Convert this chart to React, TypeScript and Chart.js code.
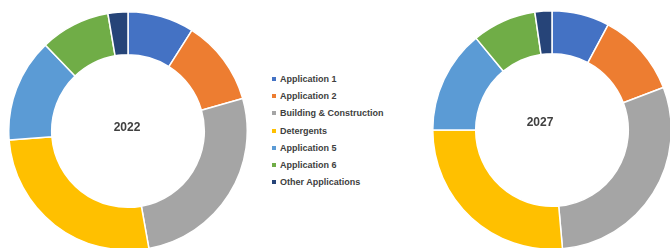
import React, { useEffect, useRef } from "react";
import { Chart, registerables } from "chart.js";

Chart.register(...registerables);

const categories = [
  "Application 1",
  "Application 2",
  "Building & Construction",
  "Detergents",
  "Application 5",
  "Application 6",
  "Other Applications",
];
const values2022 = [9.0, 11.6, 26.6, 26.6, 14.0, 9.5, 2.7];
const values2027 = [7.8, 11.4, 29.4, 26.4, 14.0, 8.7, 2.3];
const colors = ["#4472C4", "#ED7D31", "#A5A5A5", "#FFC000", "#5B9BD5", "#70AD47", "#264478"];
const yearLabels = ["2022", "2027"];

const FONT = "'Liberation Sans', Arial, sans-serif";

function Donut({ values, label, left, top, size, textDx, textDy }: any) {
  const ref = useRef<HTMLCanvasElement | null>(null);
  useEffect(() => {
    if (!ref.current) return;
    const centerText = {
      id: "centerText",
      afterDraw(chart: any) {
        const meta = chart.getDatasetMeta(0);
        const arc = meta.data[0];
        if (!arc) return;
        const ctx = chart.ctx;
        ctx.save();
        ctx.font = `bold 12px ${FONT}`;
        ctx.fillStyle = "#404040";
        ctx.textAlign = "center";
        ctx.textBaseline = "middle";
        ctx.fillText(label, arc.x + textDx, arc.y + textDy);
        ctx.restore();
      },
    };
    const chart = new Chart(ref.current, {
      type: "doughnut",
      data: {
        labels: categories,
        datasets: [
          {
            data: values,
            backgroundColor: colors,
            borderColor: "#ffffff",
            borderWidth: 1.5,
          },
        ],
      },
      options: {
        responsive: false,
        animation: false,
        cutout: "64%",
        layout: { padding: 0 },
        plugins: { legend: { display: false }, tooltip: { enabled: false } },
      },
      plugins: [centerText],
    });
    return () => chart.destroy();
  }, []);
  return (
    <canvas
      ref={ref}
      width={size}
      height={size}
      style={{ position: "absolute", left, top, width: size, height: size }}
    />
  );
}

export default function App() {
  return (
    <div
      style={{
        position: "fixed",
        left: 0,
        top: 0,
        width: 670,
        height: 248,
        overflow: "hidden",
        background: "#ffffff",
      }}
    >
      <Donut values={values2022} label={yearLabels[0]} left={8} top={11} size={240} textDx={-1} textDy={-3} />
      <Donut values={values2027} label={yearLabels[1]} left={432} top={10} size={240} textDx={-12} textDy={-7} />
      <div style={{ position: "absolute", left: 272, top: 70 }}>
        {categories.map((c, i) => (
          <div
            key={c}
            style={{
              display: "flex",
              alignItems: "center",
              height: 17.3,
              fontFamily: FONT,
              fontSize: 9,
              fontWeight: 600,
              color: "#404040",
              whiteSpace: "nowrap",
            }}
          >
            <span
              style={{
                display: "inline-block",
                width: 4,
                height: 4,
                background: colors[i],
                marginRight: 4,
              }}
            />
            {c}
          </div>
        ))}
      </div>
    </div>
  );
}
